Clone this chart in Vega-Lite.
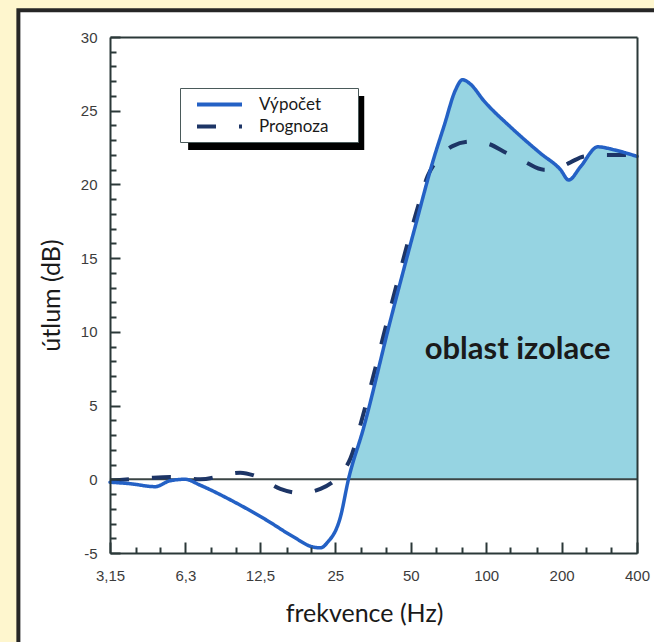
{
  "$schema": "https://vega.github.io/schema/vega-lite/v6.json",
  "autosize": {"type": "none"},
  "width": 527,
  "height": 516,
  "padding": {"left": 110, "top": 37, "right": 17, "bottom": 89},
  "config": {"background": "#FEF6CE", "view": {"stroke": null}, "font": "Liberation Sans"},
  "datasets": {
    "curves": [
      {"series": "Výpočet", "f": 3.15, "v": -0.2},
      {"series": "Výpočet", "f": 3.79, "v": -0.3},
      {"series": "Výpočet", "f": 4.77, "v": -0.5},
      {"series": "Výpočet", "f": 5.47, "v": -0.1},
      {"series": "Výpočet", "f": 6.28, "v": 0.0},
      {"series": "Výpočet", "f": 7.21, "v": -0.4},
      {"series": "Výpočet", "f": 9.78, "v": -1.5},
      {"series": "Výpočet", "f": 13.37, "v": -2.8},
      {"series": "Výpočet", "f": 16.98, "v": -3.9},
      {"series": "Výpočet", "f": 20.4, "v": -4.6},
      {"series": "Výpočet", "f": 21.8, "v": -4.65},
      {"series": "Výpočet", "f": 23.2, "v": -4.3},
      {"series": "Výpočet", "f": 26.2, "v": -2.55},
      {"series": "Výpočet", "f": 28.2, "v": 0},
      {"series": "Výpočet", "f": 32.3, "v": 3.4},
      {"series": "Výpočet", "f": 41.5, "v": 10.8},
      {"series": "Výpočet", "f": 52, "v": 17.1},
      {"series": "Výpočet", "f": 61.6, "v": 21.7},
      {"series": "Výpočet", "f": 68, "v": 24.0},
      {"series": "Výpočet", "f": 75.4, "v": 26.4},
      {"series": "Výpočet", "f": 80.4, "v": 27.1},
      {"series": "Výpočet", "f": 86.6, "v": 26.8},
      {"series": "Výpočet", "f": 97.6, "v": 25.7},
      {"series": "Výpočet", "f": 125, "v": 23.9},
      {"series": "Výpočet", "f": 165, "v": 22.1},
      {"series": "Výpočet", "f": 198, "v": 21.0},
      {"series": "Výpočet", "f": 213.5, "v": 20.3},
      {"series": "Výpočet", "f": 238, "v": 21.2},
      {"series": "Výpočet", "f": 279, "v": 22.55},
      {"series": "Výpočet", "f": 323, "v": 22.35},
      {"series": "Výpočet", "f": 400, "v": 21.9},
      {"series": "Prognoza", "f": 3.15, "v": -0.1},
      {"series": "Prognoza", "f": 4.55, "v": 0.1},
      {"series": "Prognoza", "f": 5.47, "v": 0.15},
      {"series": "Prognoza", "f": 7.21, "v": 0.0},
      {"series": "Prognoza", "f": 10.42, "v": 0.45},
      {"series": "Prognoza", "f": 12.3, "v": 0.15},
      {"series": "Prognoza", "f": 15.07, "v": -0.65},
      {"series": "Prognoza", "f": 18.1, "v": -0.93},
      {"series": "Prognoza", "f": 21.8, "v": -0.65},
      {"series": "Prognoza", "f": 26.2, "v": 0.35},
      {"series": "Prognoza", "f": 28.7, "v": 1.4},
      {"series": "Prognoza", "f": 32.3, "v": 4.4},
      {"series": "Prognoza", "f": 41.5, "v": 11.6},
      {"series": "Prognoza", "f": 52, "v": 17.8},
      {"series": "Prognoza", "f": 58.5, "v": 20.6},
      {"series": "Prognoza", "f": 65.7, "v": 21.9},
      {"series": "Prognoza", "f": 73.4, "v": 22.6},
      {"series": "Prognoza", "f": 86.6, "v": 22.9},
      {"series": "Prognoza", "f": 99.5, "v": 22.8},
      {"series": "Prognoza", "f": 121.7, "v": 22.1},
      {"series": "Prognoza", "f": 143.7, "v": 21.5},
      {"series": "Prognoza", "f": 169.5, "v": 21.0},
      {"series": "Prognoza", "f": 192.8, "v": 21.1},
      {"series": "Prognoza", "f": 217, "v": 21.5},
      {"series": "Prognoza", "f": 245, "v": 21.9},
      {"series": "Prognoza", "f": 286, "v": 22.0},
      {"series": "Prognoza", "f": 360, "v": 22.0},
      {"series": "Prognoza", "f": 400, "v": 21.9}
    ]
  },
  "layer": [
    {
      "data": {"values": [{"part": "panel"}]},
      "mark": {"type": "rect", "fill": "#FFFFFF", "stroke": "#262626", "strokeWidth": 4},
      "encoding": {
        "x": {"datum": 1.357, "type": "quantitative", "scale": {"type": "log", "domain": [3.15, 400], "nice": false},
          "axis": {"orient": "bottom", "values": [3.15, 6.3, 12.5, 25, 50, 100, 200, 400], "labelExpr": "replace(toString(datum.value), '.', ',')", "ticks": false, "domain": false, "grid": false, "labelFlush": false, "labelOverlap": false, "labelPadding": 15, "labelFont": "Liberation Sans", "labelFontSize": 15, "labelColor": "#3c3c3c", "title": "frekvence (Hz)", "titleFont": "Lato", "titleFontSize": 25, "titleFontWeight": "normal", "titleColor": "#1a1a1a", "titleX": 254, "titleY": 60, "titleBaseline": "middle", "zindex": 1}},
        "x2": {"datum": 800},
        "y": {"datum": 31.81, "type": "quantitative", "scale": {"domain": [-5, 30], "nice": false, "zero": false},
          "axis": {"orient": "left", "values": [-5, 0, 5, 10, 15, 20, 25, 30], "labelExpr": "toString(datum.value)", "ticks": false, "domain": false, "grid": false, "labelFlush": false, "labelOverlap": false, "labelPadding": 13, "labelFont": "Liberation Sans", "labelFontSize": 15, "labelColor": "#3c3c3c", "title": "útlum (dB)", "titleFont": "Lato", "titleFontSize": 25, "titleFontWeight": "normal", "titleColor": "#1a1a1a", "titleX": -59, "titleY": 258, "titleBaseline": "middle", "zindex": 1}},
        "y2": {"datum": -15}
      }
    },
    {
      "data": {"values": [{"part": "shadow"}]},
      "mark": {"type": "rect", "fill": "#000000"},
      "encoding": {
        "x": {"datum": 6.46, "type": "quantitative", "scale": {"type": "log", "domain": [3.15, 400], "nice": false},
          "axis": {"orient": "bottom", "values": [3.15, 6.3, 12.5, 25, 50, 100, 200, 400], "labels": false, "ticks": true, "tickSize": -11, "tickWidth": 2, "tickColor": "#2b3838", "domain": true, "domainColor": "#2b3838", "domainWidth": 2, "grid": false, "title": null, "zindex": 1}},
        "x2": {"datum": 32.6},
        "y": {"datum": 26.0, "type": "quantitative", "scale": {"domain": [-5, 30], "nice": false, "zero": false},
          "axis": {"orient": "left", "values": [-5, 0, 5, 10, 15, 20, 25, 30], "labels": false, "ticks": true, "tickSize": -10, "tickWidth": 2, "tickColor": "#2b3838", "domain": true, "domainColor": "#2b3838", "domainWidth": 2, "grid": false, "title": null, "zindex": 1}},
        "y2": {"datum": 22.34}
      }
    },
    {
      "data": {"name": "curves"},
      "transform": [{"filter": "datum.series == 'Výpočet' && datum.f >= 28.2"}],
      "mark": {"type": "area", "interpolate": "monotone", "fill": "#96D4E2"},
      "encoding": {
        "x": {"field": "f", "type": "quantitative", "scale": {"type": "log", "domain": [3.15, 400], "nice": false},
          "axis": {"orient": "bottom", "values": [4, 5, 8, 10, 16, 20, 31.5, 40, 63, 80, 125, 160, 250, 315], "labels": false, "ticks": true, "tickSize": -6, "tickWidth": 2, "tickColor": "#2b3838", "domain": false, "grid": false, "title": null, "zindex": 1}},
        "y": {"field": "v", "type": "quantitative", "scale": {"domain": [-5, 30], "nice": false, "zero": false},
          "axis": {"orient": "left", "values": [-4, -3, -2, -1, 1, 2, 3, 4, 6, 7, 8, 9, 11, 12, 13, 14, 16, 17, 18, 19, 21, 22, 23, 24, 26, 27, 28, 29], "labels": false, "ticks": true, "tickSize": -6, "tickWidth": 2, "tickColor": "#2b3838", "domain": false, "grid": false, "title": null, "zindex": 1}},
        "y2": {"datum": 0}
      }
    },
    {
      "data": {"values": [{"part": "zero"}]},
      "mark": {"type": "rule", "stroke": "#3b4545", "strokeWidth": 2},
      "encoding": {
        "y": {"datum": 0, "type": "quantitative", "scale": {"domain": [-5, 30], "nice": false, "zero": false},
          "axis": {"orient": "right", "ticks": false, "labels": false, "domain": true, "domainColor": "#2b3838", "domainWidth": 2, "grid": false, "title": null, "zindex": 1}}
      }
    },
    {
      "data": {"name": "curves"},
      "transform": [{"filter": "datum.series == 'Prognoza'"}],
      "mark": {"type": "line", "interpolate": "monotone", "strokeWidth": 4, "strokeCap": "butt"},
      "encoding": {
        "x": {"field": "f", "type": "quantitative", "scale": {"type": "log", "domain": [3.15, 400], "nice": false},
          "axis": {"orient": "top", "ticks": false, "labels": false, "domain": true, "domainColor": "#2b3838", "domainWidth": 2, "grid": false, "title": null, "zindex": 1}},
        "y": {"field": "v", "type": "quantitative", "scale": {"domain": [-5, 30], "nice": false, "zero": false}, "axis": null},
        "color": {"field": "series", "type": "nominal", "scale": {"domain": ["Výpočet", "Prognoza"], "range": ["#2461C5", "#1D3566"]},
          "legend": {"title": null, "orient": "none", "legendX": 70, "legendY": 51, "fillColor": "#FFFFFF", "strokeColor": "#4a5a5a", "padding": 7, "symbolType": "M-3,0H3M16.4,0", "symbolSize": 225, "symbolStrokeWidth": 4, "symbolOffset": 23, "labelOffset": 30, "labelFont": "Lato", "labelFontSize": 17, "labelColor": "#1a1a1a", "rowPadding": 4}},
        "strokeDash": {"field": "series", "type": "nominal", "scale": {"domain": ["Výpočet", "Prognoza"], "range": [[1, 0], [19, 23]]},
          "legend": {"title": null, "orient": "none", "legendX": 70, "legendY": 51, "fillColor": "#FFFFFF", "strokeColor": "#4a5a5a", "padding": 7, "symbolType": "M-3,0H3M16.4,0", "symbolSize": 225, "symbolStrokeWidth": 4, "symbolOffset": 23, "labelOffset": 30, "labelFont": "Lato", "labelFontSize": 17, "labelColor": "#1a1a1a", "rowPadding": 4}}
      }
    },
    {
      "data": {"name": "curves"},
      "transform": [{"filter": "datum.series == 'Výpočet'"}],
      "mark": {"type": "line", "interpolate": "monotone", "strokeWidth": 3.5, "strokeCap": "round"},
      "encoding": {
        "x": {"field": "f", "type": "quantitative", "scale": {"type": "log", "domain": [3.15, 400], "nice": false}, "axis": null},
        "y": {"field": "v", "type": "quantitative", "scale": {"domain": [-5, 30], "nice": false, "zero": false}, "axis": null},
        "color": {"field": "series", "type": "nominal", "scale": {"domain": ["Výpočet", "Prognoza"], "range": ["#2461C5", "#1D3566"]},
          "legend": {"title": null, "orient": "none", "legendX": 70, "legendY": 51, "fillColor": "#FFFFFF", "strokeColor": "#4a5a5a", "padding": 7, "symbolType": "M-3,0H3M16.4,0", "symbolSize": 225, "symbolStrokeWidth": 4, "symbolOffset": 23, "labelOffset": 30, "labelFont": "Lato", "labelFontSize": 17, "labelColor": "#1a1a1a", "rowPadding": 4}},
        "strokeDash": {"field": "series", "type": "nominal", "scale": {"domain": ["Výpočet", "Prognoza"], "range": [[1, 0], [19, 23]]},
          "legend": {"title": null, "orient": "none", "legendX": 70, "legendY": 51, "fillColor": "#FFFFFF", "strokeColor": "#4a5a5a", "padding": 7, "symbolType": "M-3,0H3M16.4,0", "symbolSize": 225, "symbolStrokeWidth": 4, "symbolOffset": 23, "labelOffset": 30, "labelFont": "Lato", "labelFontSize": 17, "labelColor": "#1a1a1a", "rowPadding": 4}}
      }
    },
    {
      "data": {"values": [{"label": "oblast izolace"}]},
      "mark": {"type": "text", "font": "Lato", "fontSize": 31, "fontWeight": "bold", "color": "#1a1a1a", "align": "center", "baseline": "alphabetic"},
      "encoding": {
        "x": {"datum": 133.5, "type": "quantitative", "scale": {"type": "log", "domain": [3.15, 400], "nice": false}, "axis": null},
        "y": {"datum": 8.16, "type": "quantitative", "scale": {"domain": [-5, 30], "nice": false, "zero": false}, "axis": null},
        "text": {"field": "label"}
      }
    }
  ]
}
